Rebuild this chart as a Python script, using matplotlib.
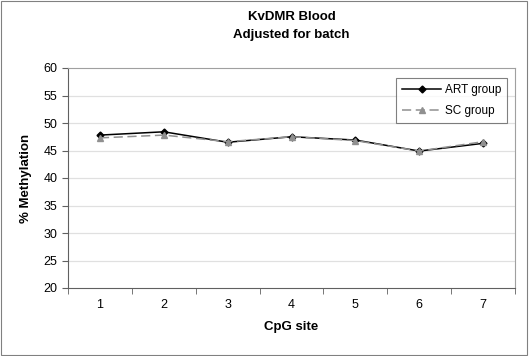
import matplotlib
matplotlib.use('Agg')
import matplotlib.pyplot as plt
import numpy as np

plt.rcParams['font.family'] = ['Liberation Sans', 'DejaVu Sans']

sites = [1, 2, 3, 4, 5, 6, 7]
art_group = [47.8, 48.4, 46.5, 47.5, 46.9, 44.9, 46.3]
sc_group = [47.3, 47.8, 46.6, 47.5, 46.8, 44.9, 46.6]
y_ticks = [20, 25, 30, 35, 40, 45, 50, 55, 60]

fig = plt.figure(figsize=(5.29, 3.56), dpi=100)
ax = fig.add_axes([68/529, 1-288/356, (515-68)/529, (288-68)/356])

# outer frame of the chart
fig.patches.append(plt.Rectangle((0.002, 0.003), 0.995, 0.994, transform=fig.transFigure,
                                 fill=False, edgecolor='#808080', linewidth=0.8))

for y in y_ticks[1:-1]:
    ax.axhline(y, color='#e0e0e0', linewidth=0.9, zorder=0)

ax.plot(sites, art_group, color='black', linewidth=1.1, marker='D', markersize=3.5,
        label='ART group', zorder=3)
ax.plot(sites, sc_group, color='#909090', linewidth=1.1, linestyle=(0, (6, 3)),
        marker='^', markersize=4.5, label='SC group', zorder=4)

ax.set_xlim(0.5, 7.5)
ax.set_ylim(20, 60)
ax.set_yticks(y_ticks)
ax.set_xticks(sites)
ax.set_xticks(np.arange(0.5, 8, 1), minor=True)
ax.tick_params(axis='x', which='major', length=0, labelsize=9, pad=8)
ax.tick_params(axis='x', which='minor', length=4, direction='out', color='#606060')
ax.tick_params(axis='y', length=4, direction='out', color='#606060', labelsize=9)

for side in ['left', 'bottom']:
    ax.spines[side].set_color('#606060')
for side in ['top', 'right']:
    ax.spines[side].set_color('#a0a0a0')

ax.set_xlabel('CpG site', fontsize=9.5, fontweight='bold', labelpad=7)
ax.set_ylabel('% Methylation', fontsize=9.5, fontweight='bold', labelpad=8)
fig.text(0.5 * (68 + 515) / 529, 1 - 26/356, 'KvDMR Blood\nAdjusted for batch', ha='center',
         va='center', fontsize=9.5, fontweight='bold', linespacing=1.6)

leg = ax.legend(loc='upper right', fontsize=8.5, frameon=True, fancybox=False,
                edgecolor='#606060', handlelength=3.3, labelspacing=0.75,
                handletextpad=0.3, borderpad=0.5,
                bbox_to_anchor=(0.995, 0.98))
leg.get_frame().set_linewidth(0.8)

fig.savefig('out.png', dpi=100)
